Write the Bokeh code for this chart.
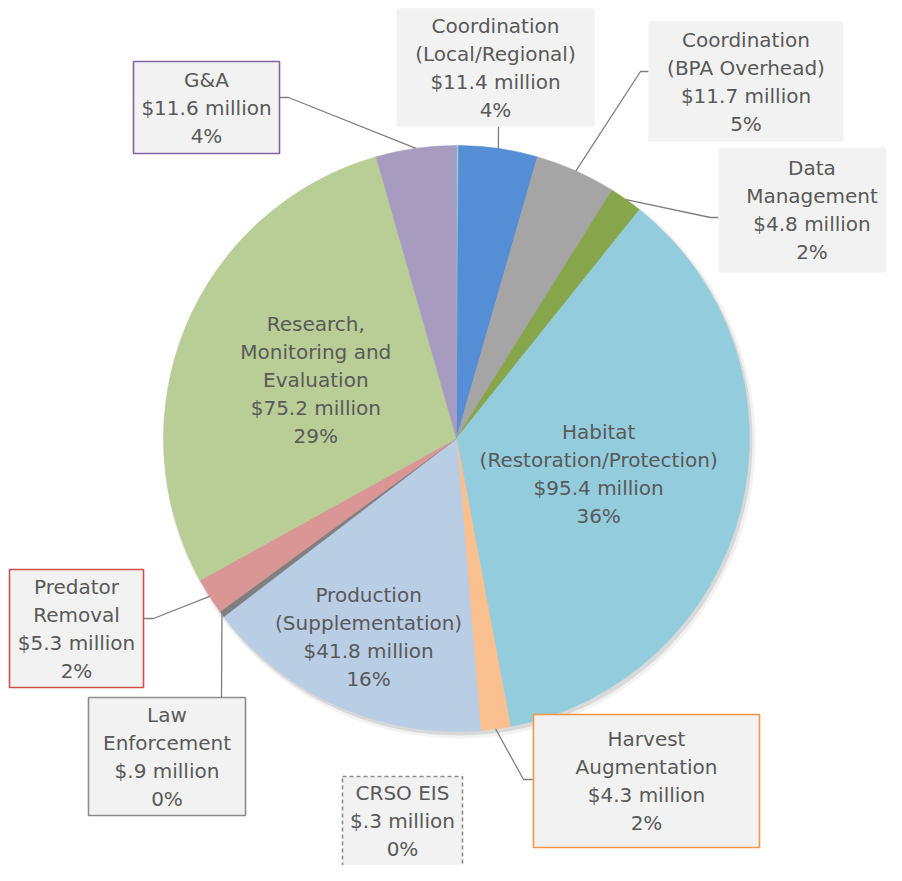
import math
from bokeh.plotting import figure
from bokeh.models import Range1d
from bokeh.embed import file_html
from bokeh.resources import INLINE
from bokeh.core.properties import value

# ---------------- data ----------------
categories = ["CRSO EIS", "Coordination (Local/Regional)", "Coordination (BPA Overhead)",
              "Data Management", "Habitat (Restoration/Protection)", "Harvest Augmentation",
              "Production (Supplementation)", "Law Enforcement", "Predator Removal",
              "Research, Monitoring and Evaluation", "G&A"]
amounts = [0.3, 11.4, 11.7, 4.8, 95.4, 4.3, 41.8, 0.9, 5.3, 75.2, 11.6]
amount_labels = ["$.3 million", "$11.4 million", "$11.7 million", "$4.8 million",
                 "$95.4 million", "$4.3 million", "$41.8 million", "$.9 million",
                 "$5.3 million", "$75.2 million", "$11.6 million"]
pct_labels = ["0%", "4%", "5%", "2%", "36%", "2%", "16%", "0%", "2%", "29%", "4%"]
name_lines = [["CRSO EIS"], ["Coordination", "(Local/Regional)"], ["Coordination", "(BPA Overhead)"],
              ["Data", "Management"], ["Habitat", "(Restoration/Protection)"],
              ["Harvest", "Augmentation"], ["Production", "(Supplementation)"],
              ["Law", "Enforcement"], ["Predator", "Removal"],
              ["Research,", "Monitoring and", "Evaluation"], ["G&A"]]
colors = ["#93cddd", "#558ed5", "#a5a5a5", "#87a64c", "#93cddd", "#fac090",
          "#b9cde5", "#7f7f7f", "#d99694", "#b9cd96", "#a89bc0"]

# ---------------- layout (image pixels) ----------------
W, H = 886, 865
CX, CY, R = 456, 438, 293
LINE_H = 28
FONT = "DejaVu Sans"
FSIZE = "20px"
TXT = "#595959"

# inside labels: radius fraction along slice mid angle
inside = {4: 0.50, 6: 0.74, 9: 0.52}
# boxed labels: (left, top, right, bottom, border color or None, dash, text centre y, leader points)
boxes = {
    0: (342, 776, 462, 890, "#8c8c8c", "4 3", 820, []),
    1: (396, 8, 594, 126, None, "solid", None, [(498, 126)]),
    2: (648, 21, 843, 141, None, "solid", None, [(640, 71), (648, 71)]),
    3: (718, 147, 905, 272, None, "solid", None, [(710, 217), (718, 217)]),
    5: (533, 714, 759, 847, "#f79646", "solid", None, [(523, 779), (533, 779)]),
    7: (88, 697, 245, 815, "#8c8c8c", "solid", None, [(221, 697)]),
    8: (9, 569, 143, 687, "#d0504d", "solid", None, [(153, 618), (143, 618)]),
    10: (133, 61, 279, 153, "#8064a2", "solid", None, [(288, 97), (279, 97)]),
}


def Y(py):
    return H - py


p = figure(width=W, height=H, x_range=Range1d(0, W), y_range=Range1d(0, H),
           x_axis_type=None, y_axis_type=None, toolbar_location=None,
           output_backend="svg", min_border=0, outline_line_color=None)
p.grid.visible = False

# shadow
p.circle(x=[CX + 3], y=[Y(CY) - 4], radius=R + 3, fill_color="#d9d9d9", fill_alpha=0.35, line_color=None)
p.circle(x=[CX + 2], y=[Y(CY) - 3], radius=R + 1, fill_color="#bfbfbf", fill_alpha=0.5, line_color=None)

total = sum(amounts)
cum = 0.0
mids = []
starts, ends = [], []
for a in amounts:
    f0 = cum / total
    cum += a
    f1 = cum / total
    starts.append(math.pi / 2 - 2 * math.pi * f1)
    ends.append(math.pi / 2 - 2 * math.pi * f0)
    mids.append(2 * math.pi * (f0 + f1) / 2)  # clockwise from 12 o'clock

p.wedge(x=[CX] * len(amounts), y=[Y(CY)] * len(amounts), radius=R,
        start_angle=starts, end_angle=ends, fill_color=colors,
        line_color=colors, line_width=0.6)


def draw_lines(cx, cy, lines):
    n = len(lines)
    ys = [Y(cy + (i - (n - 1) / 2) * LINE_H) for i in range(n)]
    p.text(x=[cx] * n, y=ys, text=lines, text_align="center", text_baseline="middle",
           text_font=value(FONT), text_font_size=FSIZE, text_color=TXT)


for i, cat in enumerate(categories):
    lines = name_lines[i] + [amount_labels[i], pct_labels[i]]
    if i in inside:
        rr = R * inside[i]
        lx = CX + rr * math.sin(mids[i])
        ly = CY - rr * math.cos(mids[i])
        draw_lines(lx, ly, lines)
    else:
        l, t, r, b, bc, dash, tcy, leader = boxes[i]
        ex = CX + R * math.sin(mids[i])
        ey = CY - R * math.cos(mids[i])
        if leader:
            xs = [ex] + [pt[0] for pt in leader]
            ys = [Y(ey)] + [Y(pt[1]) for pt in leader]
            p.line(xs, ys, line_color="#7f7f7f", line_width=1.3)
        p.quad(left=[l], right=[r], top=[Y(t)], bottom=[Y(b)], fill_color="#f2f2f2",
               line_color=bc if bc else None, line_width=1.6, line_dash=dash)
        draw_lines((l + r) / 2, tcy if tcy else (t + b) / 2, lines)

open("out.html", "w").write(file_html(p, INLINE))
